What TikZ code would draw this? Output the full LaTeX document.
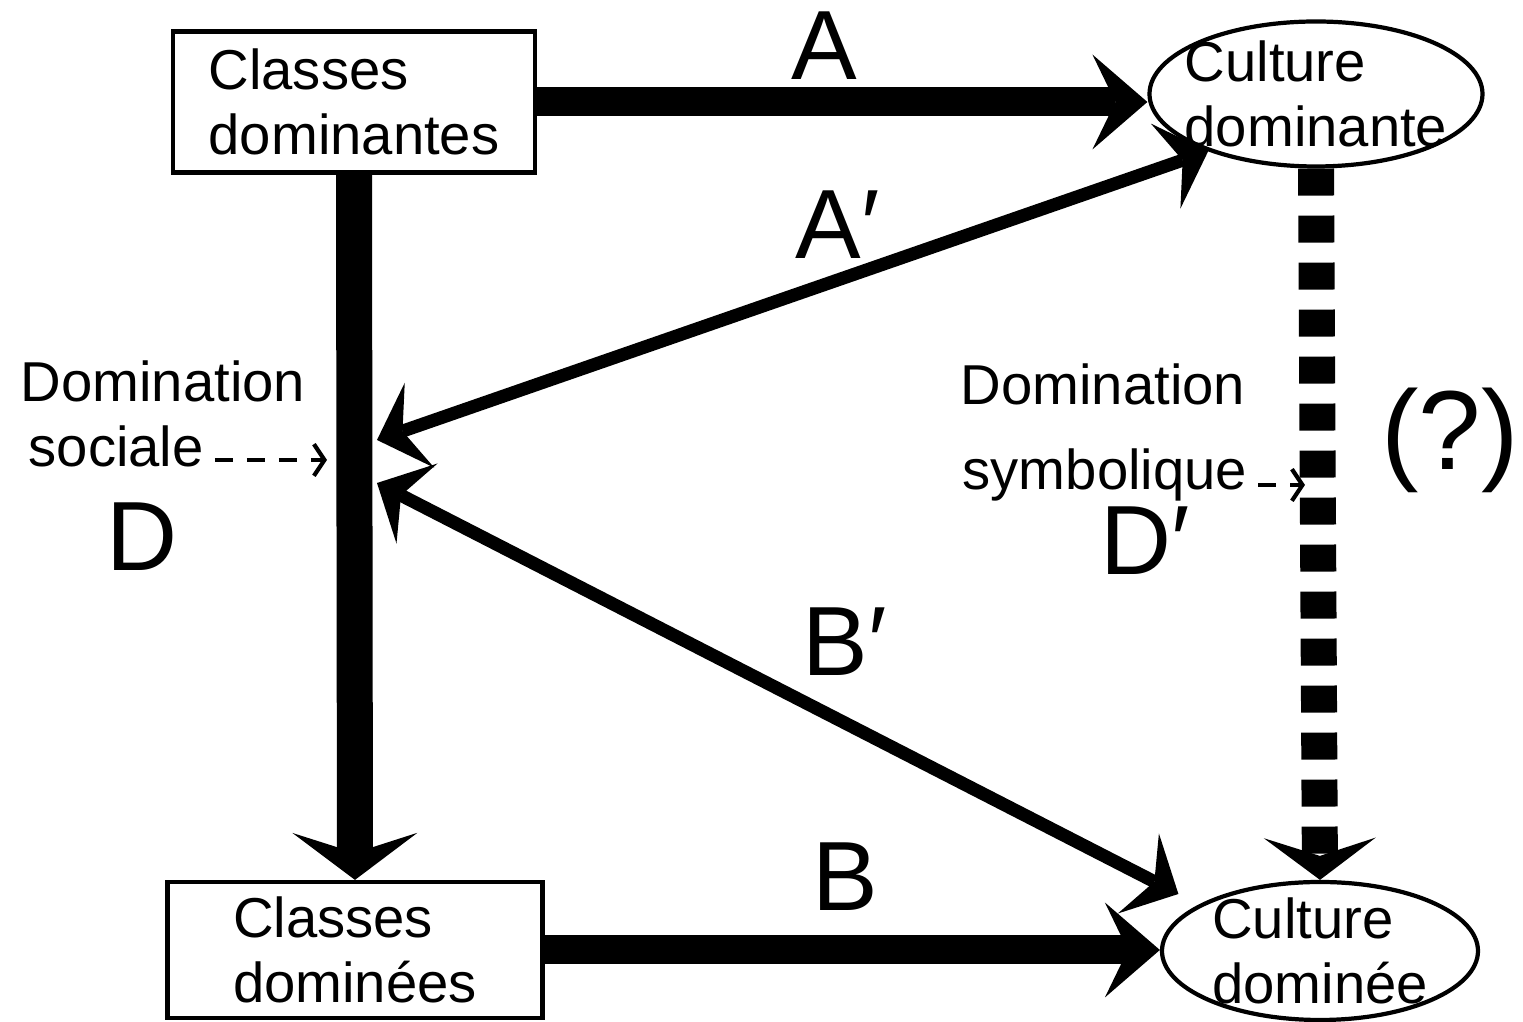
\documentclass[tikz,border=0pt]{standalone}
\usepackage{fontspec}
\setmainfont{Liberation Sans}
\usetikzlibrary{arrows.meta,positioning,calc,shapes.geometric}

\begin{document}
\begin{tikzpicture}[>=Stealth,font=\fontsize{16}{18.5}\selectfont]
\tikzstyle{cl}=[draw,line width=1.2pt,align=left,inner sep=0pt]
\tikzstyle{cu}=[draw,ellipse,line width=1.2pt,align=left,inner sep=-5mm]
\tikzstyle{lab}=[inner sep=0pt]
\tikzstyle{big}=[inner sep=0pt,font=\fontsize{28}{30}\selectfont]
\tikzstyle{fat}=[line width=0.29cm,-{Stealth[length=5.5mm,width=9.5mm,inset=2.3mm,line width=0pt]}]
\tikzstyle{lien}=[line width=0.13cm,{Stealth[length=4.5mm,width=9mm,inset=1.8mm,line width=0pt]}-{Stealth[length=4.5mm,width=9mm,inset=1.8mm,line width=0pt]}]
\tikzstyle{renvoi}=[line width=1.2pt,dash pattern=on 0.18cm off 0.14cm,-{Straight Barb[length=3pt,width=9pt]}]
\useasboundingbox (0,0) rectangle (15.23,10.22);

\node[cl,minimum width=3.62cm,minimum height=1.41cm] (cdom) at (3.54,9.20) {Classes\\dominantes};
\node[cl,minimum width=3.75cm,minimum height=1.36cm] (cdmn) at (3.55,0.72) {Classes\\dominées};
\node[cu,minimum width=3.33cm,minimum height=1.45cm] (kdom) at (13.16,9.28) {Culture\\dominante};
\node[cu,minimum width=3.16cm,minimum height=1.38cm] (kdmn) at (13.20,0.71) {Culture\\dominée};

% D : domination sociale
\draw[fat,line width=0.36cm,-{Stealth[length=4.7mm,width=12.5mm,inset=2mm,line width=0pt]}] (cdom.south) -- (cdmn.north);
% D' : domination symbolique
\draw[line width=0.36cm,dash pattern=on 0.27cm off 0.2cm,-{Stealth[length=4.2mm,width=11.2mm,inset=1.8mm,line width=0pt]}] (kdom.south) -- (kdmn.north);

\draw[fat] (cdom.east) -- (cdom.east -| kdom.west);
\draw[fat] (cdmn.east) -- (cdmn.east -| kdmn.west);

\coordinate (pa) at (3.77,5.82);
\coordinate (pb) at (3.77,5.39);
\draw[lien] (pa) -- (kdom.208);
\draw[lien,shorten >=2.3mm] (pb) -- (kdmn.159);

\node[big] (la) at (8.24,9.76) {A};
\node[big] (la2) at (8.38,7.97) {A′};
\node[big] (lb2) at (8.45,3.80) {B′};
\node[big] (lb) at (8.45,1.45) {B};
\node[big] (ld) at (1.42,4.85) {D};
\node[big] (ld2) at (11.45,4.81) {D′};
\node[lab,font=\fontsize{32}{34}\selectfont] (qm) at (14.50,5.82) {(?)};

\node[lab,anchor=base west] (dso1) at (0.20,6.20) {Domination};
\node[lab,anchor=base west] (dso2) at (0.28,5.55) {sociale};
\coordinate (pd) at (3.27,5.62);
\draw[renvoi,shorten <=3pt] (dso2.east |- pd) -- (pd);

\node[lab,anchor=base west] (dsy1) at (9.60,6.17) {Domination};
\node[lab,anchor=base west] (dsy2) at (9.62,5.32) {symbolique};
\coordinate (pe) at (13.05,5.37);
\draw[renvoi,shorten <=3pt] (dsy2.east |- pe) -- (pe);
\end{tikzpicture}
\end{document}
